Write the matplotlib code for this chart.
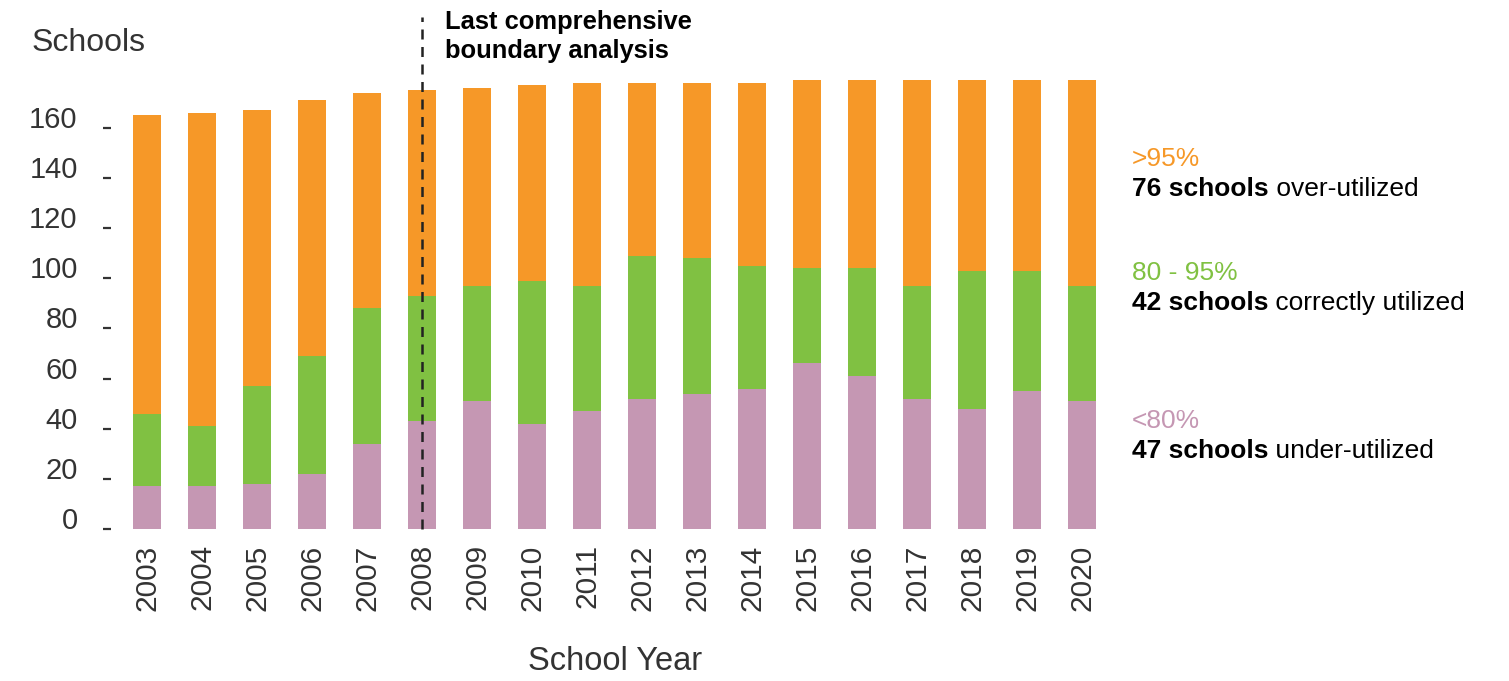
import matplotlib
matplotlib.use('Agg')
import matplotlib.pyplot as plt
import numpy as np

plt.rcParams['font.family'] = ['Liberation Sans', 'DejaVu Sans']

# data
years = [2003, 2004, 2005, 2006, 2007, 2008, 2009, 2010, 2011,
         2012, 2013, 2014, 2015, 2016, 2017, 2018, 2019, 2020]
under = [17, 17, 18, 22, 34, 43, 51, 42, 47, 52, 54, 56, 66, 61, 52, 48, 55, 51]
correct = [29, 24, 39, 47, 54, 50, 46, 57, 50, 57, 54, 49, 38, 43, 45, 55, 48, 46]
over = [119, 125, 110, 102, 86, 82, 79, 78, 81, 69, 70, 73, 75, 75, 82, 76, 76, 82]
yticks = [0, 20, 40, 60, 80, 100, 120, 140, 160]
boundaryYear = 2008

pink = '#C597B3'
green = '#80C142'
orange = '#F69828'
txt = '#333333'

fig = plt.figure(figsize=(15.09, 6.81), dpi=100)
ax = fig.add_axes([0.0736, 0.2232, 0.6674, 0.6814])

x = np.arange(len(years))
under = np.array(under)
correct = np.array(correct)
over = np.array(over)
ax.bar(x, under, width=0.51, color=pink)
ax.bar(x, correct, width=0.51, bottom=under, color=green)
ax.bar(x, over, width=0.51, bottom=under + correct, color=orange)

ax.set_xlim(-0.655, len(years) - 1 + 0.655)
ax.set_ylim(0, 185)

for s in ax.spines.values():
    s.set_visible(False)

ax.set_yticks(yticks)
ax.set_yticklabels([str(v) for v in yticks])
ax.tick_params(axis='y', direction='out', length=6, width=1.6, color=txt,
               pad=18, labelsize=21, labelcolor=txt)
# labels sit on the tick, like an underscore
for lab in ax.get_yticklabels():
    lab.set_verticalalignment('baseline')
ax.set_xticks(x)
ax.set_xticklabels([str(y) for y in years], rotation=90)
ax.tick_params(axis='x', length=0, pad=11, labelsize=21.5, labelcolor=txt)

# dashed line for the last boundary analysis
bx = years.index(boundaryYear)
ax.plot([bx, bx], [0, 204], color='#222222', lw=1.8, ls=(0, (4, 3)), clip_on=False, zorder=5)

fig.text(445 / 1509, 1 - 22 / 681, 'Last comprehensive', fontsize=18.4, fontweight='bold',
         ha='left', va='center', color='black')
fig.text(445 / 1509, 1 - 51 / 681, 'boundary analysis', fontsize=18.4, fontweight='bold',
         ha='left', va='center', color='black')

fig.text(32 / 1509, 1 - 43 / 681, 'Schools', fontsize=23, ha='left', va='center', color=txt)
fig.text(615 / 1509, 1 - 662 / 681, 'School Year', fontsize=23.5, ha='center', va='center', color=txt)

# right-hand labels
labels = [
    ('>95%', orange, '76 schools', ' over-utilized', 159),
    ('80 - 95%', green, '42 schools', ' correctly utilized', 273),
    ('<80%', pink, '47 schools', ' under-utilized', 421),
]
for head, col, boldPart, rest, ypx in labels:
    fig.text(1132 / 1509, 1 - ypx / 681, head, fontsize=19, color=col, ha='left', va='center')
    t = fig.text(1132 / 1509, 1 - (ypx + 30) / 681, boldPart, fontsize=19, fontweight='bold',
                 color='black', ha='left', va='center')
    ax.annotate(rest, xy=(1, 0.5), xycoords=t, ha='left', va='center',
                fontsize=19, color='black', annotation_clip=False)

fig.savefig('out.png', dpi=100)
